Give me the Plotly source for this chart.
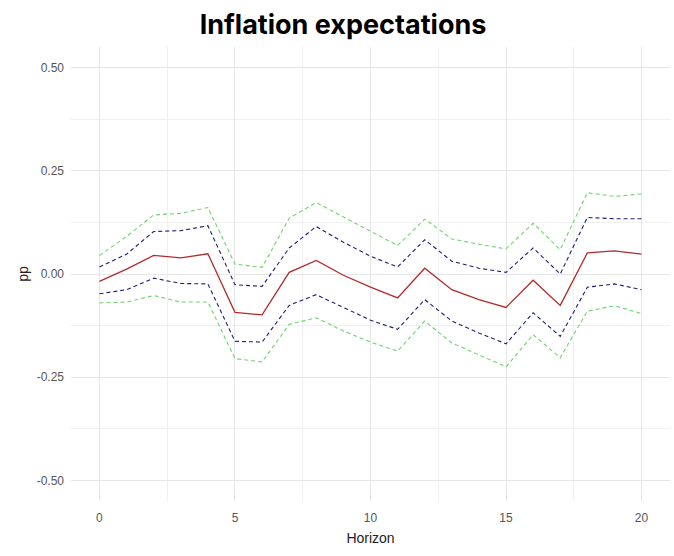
import plotly.graph_objects as go

horizon = list(range(0, 21))
irf = [-0.018, 0.012, 0.045, 0.039, 0.049, -0.093, -0.099, 0.004, 0.033, -0.003, -0.032,
       -0.058, 0.014, -0.038, -0.062, -0.081, -0.015, -0.076, 0.051, 0.056, 0.048]
upper68 = [0.017, 0.048, 0.103, 0.105, 0.117, -0.026, -0.030, 0.063, 0.115, 0.077, 0.043,
           0.017, 0.083, 0.031, 0.014, 0.004, 0.063, 0.000, 0.137, 0.134, 0.134]
lower68 = [-0.048, -0.038, -0.010, -0.023, -0.024, -0.163, -0.165, -0.076, -0.050, -0.082, -0.112,
           -0.134, -0.062, -0.114, -0.143, -0.169, -0.094, -0.151, -0.032, -0.024, -0.038]
upper90 = [0.045, 0.091, 0.143, 0.147, 0.161, 0.024, 0.016, 0.135, 0.173, 0.139, 0.103,
           0.069, 0.133, 0.085, 0.072, 0.061, 0.123, 0.059, 0.197, 0.188, 0.194]
lower90 = [-0.070, -0.068, -0.052, -0.068, -0.068, -0.205, -0.213, -0.122, -0.106, -0.138, -0.165,
           -0.187, -0.114, -0.167, -0.196, -0.225, -0.147, -0.203, -0.090, -0.077, -0.096]

x_ticks = [0, 5, 10, 15, 20]
y_ticks = [-0.5, -0.25, 0.0, 0.25, 0.5]
y_ticklabels = ["-0.50", "-0.25", "0.00", "0.25", "0.50"]

GREEN = "#6fd46f"
NAVY = "#1c1c78"
RED = "#b22c2c"
DASH = "4px,3px"

fig = go.Figure()
for vals, col in [(upper90, GREEN), (lower90, GREEN), (upper68, NAVY), (lower68, NAVY)]:
    fig.add_trace(go.Scatter(x=horizon, y=vals, mode="lines",
                             line=dict(color=col, width=1.1, dash=DASH),
                             showlegend=False, hoverinfo="skip"))
fig.add_trace(go.Scatter(x=horizon, y=irf, mode="lines",
                         line=dict(color=RED, width=1.3), showlegend=False))

grid_major = "#e6e6e6"
grid_minor = "#f0f0f0"
tickfont = dict(family="Liberation Sans, Arial, sans-serif", size=12, color="#555555")

fig.update_layout(
    width=674, height=556,
    margin=dict(l=71, r=4, t=47, b=55, autoexpand=False),
    paper_bgcolor="white", plot_bgcolor="white",
    title=dict(text="<b>Inflation expectations</b>", x=0.509, xanchor="center",
               y=0.955, yanchor="middle",
               font=dict(family="Inter, Roboto, sans-serif", size=27, color="black")),
    xaxis=dict(range=[-1.05, 21.05], tickvals=x_ticks, ticktext=[str(v) for v in x_ticks],
               automargin=False,
               showgrid=True, gridcolor=grid_major, gridwidth=1, zeroline=False,
               showline=False, ticks="", tickfont=tickfont, ticklabelstandoff=8,
               minor=dict(dtick=2.5, tick0=0, showgrid=True, gridcolor=grid_minor, gridwidth=0.7),
               title=dict(text="Horizon", standoff=9,
                          font=dict(family="Liberation Sans, Arial, sans-serif", size=14, color="#222222"))),
    yaxis=dict(range=[-0.55, 0.55], tickvals=y_ticks, ticktext=y_ticklabels,
               automargin=False,
               showgrid=True, gridcolor=grid_major, gridwidth=1, zeroline=False,
               showline=False, ticks="", tickfont=tickfont, ticklabelstandoff=6,
               minor=dict(dtick=0.125, tick0=0, showgrid=True, gridcolor=grid_minor, gridwidth=0.7),
               title=dict(text="pp", standoff=4,
                          font=dict(family="Liberation Sans, Arial, sans-serif", size=14, color="#222222"))),
)

fig.write_html("out.html", config={"displayModeBar": False},
               post_script="document.body.style.margin='0';document.body.style.overflow='hidden';")
